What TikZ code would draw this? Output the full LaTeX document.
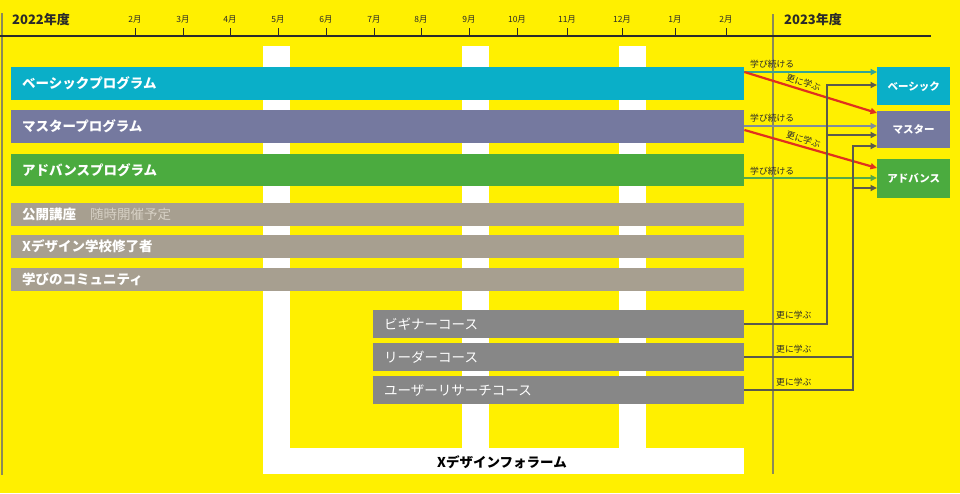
\documentclass[tikz,border=0pt]{standalone}
\usepackage{fontspec}
\setmainfont{Noto Sans CJK JP}
\usetikzlibrary{arrows.meta,calc}
\definecolor{bgY}{HTML}{FFF000}
\definecolor{cBasic}{HTML}{0AAFC8}
\definecolor{cMaster}{HTML}{75799F}
\definecolor{cAdv}{HTML}{4BAB3F}
\definecolor{cTaupe}{HTML}{A79F90}
\definecolor{cCourse}{HTML}{878787}
\definecolor{cRed}{HTML}{E0301E}
\definecolor{cTealA}{HTML}{33A595}
\definecolor{cGrayA}{HTML}{7F8C9C}
\definecolor{cGreenA}{HTML}{55A84A}
\definecolor{cDark}{HTML}{5A5A4C}
\definecolor{cLine}{HTML}{8C8A58}
\definecolor{cTxt}{HTML}{2A2A2A}
\definecolor{cSub}{HTML}{D6D0C4}
\begin{document}
\begin{tikzpicture}[x=1pt,y=-1pt,
  bar/.style={anchor=north west, inner xsep=11pt, inner ysep=0pt, align=left,
    text=white, font=\bfseries\fontsize{13.5}{14}\selectfont},
  rbox/.style={anchor=north west, inner sep=0pt, minimum width=73pt, align=center,
    text=white, font=\bfseries\fontsize{10.5}{11}\selectfont},
  mlab/.style={inner sep=0pt, text=cTxt, font=\fontsize{8.5}{9}\selectfont},
  year/.style={anchor=west, inner sep=0pt, text=cTxt, font=\bfseries\fontsize{13}{14}\selectfont},
  small/.style={inner sep=1pt, text=cTxt, font=\fontsize{8.8}{9}\selectfont},
  tick/.style={cTxt, line width=0.8pt},
  arr/.style={line width=2.2pt, -{Triangle[length=6.5pt,width=6pt]}},
  garr/.style={arr, cDark},
  gline/.style={line width=2.2pt, cDark},
  forum/.style={fill=white, draw=none}
]
\useasboundingbox (0,0) rectangle (960,493);
\fill[bgY] (0,0) rectangle (960,493);

% timeline
\draw[cLine, line width=1.2pt] (2,13) -- (2,475);
\draw[cLine, line width=1.2pt] (773,14) -- (773,474);
\draw[cTxt, line width=2pt] (0,36) -- (931,36);
\node[year] (y22) at (12,20) {2022年度};
\node[year] (y23) at (784,20) {2023年度};
\foreach \xx/\mm [count=\i] in {135/2,183/3,230/4,278/5,326/6,374/7,421/8,469/9,517/10,567/11,622/12,675/1,726/2}{
  \node[mlab] (mo\i) at (\xx,19) {\mm 月};
  \draw[tick] (\xx,28) -- (\xx,36);
}

% X design forum (white comb)
\fill[forum] (263,46) rectangle (290,474);
\fill[forum] (462,46) rectangle (489,474);
\fill[forum] (619,46) rectangle (646,474);
\fill[forum] (263,448) rectangle (744,474);
\node[inner sep=0pt, text=black, font=\bfseries\fontsize{13.5}{14}\selectfont] (forumlbl) at (502,462) {Xデザインフォラーム};

% programme bars
\node[bar, fill=cBasic, text width=711pt, minimum height=33pt] (basic) at (11,67) {ベーシックプログラム};
\node[bar, fill=cMaster, text width=711pt, minimum height=33pt] (master) at (11,110) {マスタープログラム};
\node[bar, fill=cAdv, text width=711pt, minimum height=32pt] (adv) at (11,154) {アドバンスプログラム};
\node[bar, fill=cTaupe, text width=711pt, minimum height=23pt] (kokai) at (11,203) {公開講座\hspace{14pt}{\mdseries\color{cSub}随時開催予定}};
\node[bar, fill=cTaupe, text width=711pt, minimum height=23pt] (xds) at (11,235) {Xデザイン学校修了者};
\node[bar, fill=cTaupe, text width=711pt, minimum height=23pt] (comm) at (11,268) {学びのコミュニティ};
\node[bar, fill=cCourse, text width=349pt, minimum height=28pt, font=\mdseries\fontsize{13.5}{14}\selectfont] (beg) at (373,310) {ビギナーコース};
\node[bar, fill=cCourse, text width=349pt, minimum height=28pt, font=\mdseries\fontsize{13.5}{14}\selectfont] (lead) at (373,343) {リーダーコース};
\node[bar, fill=cCourse, text width=349pt, minimum height=28pt, font=\mdseries\fontsize{13.5}{14}\selectfont] (ur) at (373,376) {ユーザーリサーチコース};

% 2023 boxes
\node[rbox, fill=cBasic, minimum height=38pt] (basicR) at (877,67) {ベーシック};
\node[rbox, fill=cMaster, minimum height=37pt] (masterR) at (877,111) {マスター};
\node[rbox, fill=cAdv, minimum height=39pt] (advR) at (877,159) {アドバンス};

% continue arrows
\coordinate (cb) at ([yshift=-5pt]basic.north east);
\coordinate (cm) at ([yshift=-16pt]master.north east);
\coordinate (ca) at ([yshift=-24pt]adv.north east);
\draw[arr, cTealA] (cb) -- (cb -| basicR.west);
\draw[arr, cGrayA] (cm) -- (cm -| masterR.west);
\draw[arr, cGreenA] (ca) -- (ca -| advR.west);
\node[small, anchor=west] (t1) at (749,64) {学び続ける};
\node[small, anchor=west] (t2) at (749,118) {学び続ける};
\node[small, anchor=west] (t3) at (749,171) {学び続ける};

% step-up red arrows
\draw[arr, cRed] (cb) -- node[small, sloped, above=1pt, pos=0.43, inner sep=1pt] (u1) {更に学ぶ} ([yshift=-2pt]masterR.north west);
\draw[arr, cRed] ([yshift=-20pt]master.north east) -- node[small, sloped, above=1pt, pos=0.43, inner sep=1pt] (u2) {更に学ぶ} ([yshift=-9pt]advR.north west);

% course connectors
\coordinate (busA) at (827,0);
\coordinate (busB) at (853,0);
\coordinate (inB) at ([yshift=-18pt]basicR.north west);
\coordinate (inM1) at ([yshift=-24pt]masterR.north west);
\coordinate (inM2) at ([yshift=-35pt]masterR.north west);
\coordinate (inA) at ([yshift=-29pt]advR.north west);
\draw[garr] (beg.east) -| (busA |- inB) -- (inB);
\draw[garr] (busA |- inM1) -- (inM1);
\draw[gline] (lead.east) -- (lead.east -| busB);
\draw[garr] (ur.east) -| (busB |- inM2) -- (inM2);
\draw[garr] (busB |- inA) -- (inA);
\node[small, anchor=south west] (s1) at (775,320) {更に学ぶ};
\node[small, anchor=south west] (s2) at (775,354) {更に学ぶ};
\node[small, anchor=south west] (s3) at (775,387) {更に学ぶ};
\end{tikzpicture}
\end{document}
